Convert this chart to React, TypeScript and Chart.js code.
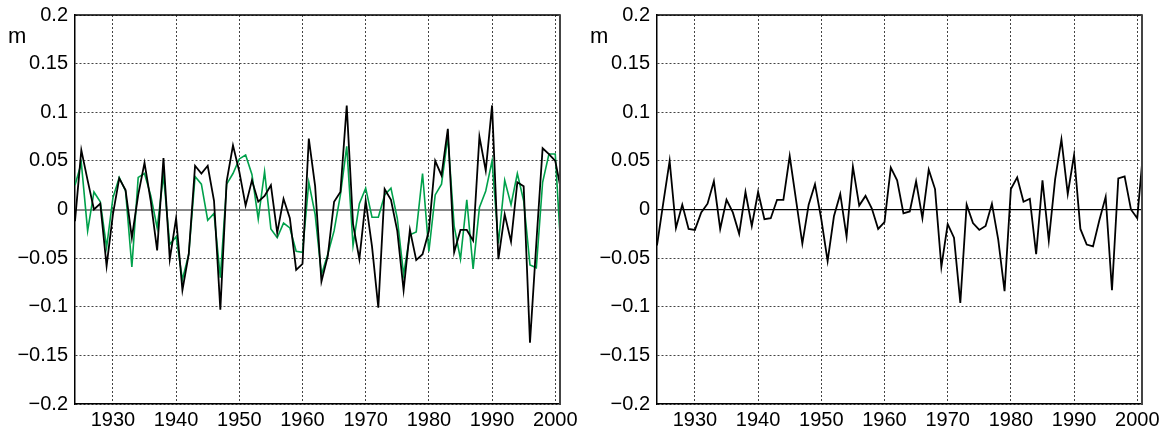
import React, { useEffect, useRef } from "react";
import { Chart, registerables } from "chart.js";

Chart.register(...registerables);

// ---------- data ----------
const years = [
  1924, 1925, 1926, 1927, 1928, 1929, 1930, 1931, 1932, 1933,
  1934, 1935, 1936, 1937, 1938, 1939, 1940, 1941, 1942, 1943,
  1944, 1945, 1946, 1947, 1948, 1949, 1950, 1951, 1952, 1953,
  1954, 1955, 1956, 1957, 1958, 1959, 1960, 1961, 1962, 1963,
  1964, 1965, 1966, 1967, 1968, 1969, 1970, 1971, 1972, 1973,
  1974, 1975, 1976, 1977, 1978, 1979, 1980, 1981, 1982, 1983,
  1984, 1985, 1986, 1987, 1988, 1989, 1990, 1991, 1992, 1993,
  1994, 1995, 1996, 1997, 1998, 1999, 2000, 2001,
];

const leftBlack = [
  -0.012, 0.061, 0.03, 0.0, 0.006, -0.058, -0.005, 0.032, 0.02, -0.029,
  0.015, 0.048, 0.008, -0.042, 0.053, -0.051, -0.009, -0.083, -0.046, 0.045,
  0.037, 0.045, 0.009, -0.103, 0.029, 0.066, 0.039, 0.004, 0.03, 0.008,
  0.014, 0.025, -0.024, 0.011, -0.009, -0.062, -0.056, 0.073, 0.024, -0.074,
  -0.048, 0.008, 0.018, 0.107, -0.015, -0.051, 0.009, -0.038, -0.101, 0.021,
  0.01, -0.022, -0.083, -0.021, -0.052, -0.046, -0.022, 0.05, 0.035, 0.083,
  -0.044, -0.021, -0.021, -0.032, 0.075, 0.04, 0.107, -0.051, -0.005, -0.033,
  0.028, 0.024, -0.137, -0.035, 0.063, 0.057, 0.05, 0.017,
];

const leftGreen = [
  0.025, 0.048, -0.022, 0.018, 0.008, -0.039, 0.012, 0.033, 0.019, -0.059,
  0.033, 0.037, 0.014, -0.019, 0.035, -0.036, -0.028, -0.072, -0.046, 0.034,
  0.026, -0.011, -0.004, -0.07, 0.026, 0.037, 0.052, 0.056, 0.036, -0.01,
  0.039, -0.02, -0.029, -0.014, -0.019, -0.043, -0.044, 0.028, -0.005, -0.067,
  -0.046, -0.022, 0.015, 0.065, -0.037, 0.006, 0.022, -0.008, -0.008, 0.015,
  0.022, -0.009, -0.067, -0.026, -0.023, 0.037, -0.043, 0.015, 0.026, 0.075,
  -0.017, -0.051, 0.01, -0.061, 0.002, 0.019, 0.05, -0.035, 0.03, 0.005,
  0.037, 0.009, -0.057, -0.06, 0.028, 0.057, 0.057, -0.054,
];

const rightBlack = [
  -0.037, 0.007, 0.05, -0.019, 0.005, -0.02, -0.021, -0.003, 0.006, 0.029,
  -0.02, 0.01, -0.003, -0.025, 0.018, -0.017, 0.018, -0.01, -0.009, 0.01,
  0.01, 0.055, 0.01, -0.035, 0.005, 0.026, -0.01, -0.053, -0.007, 0.016,
  -0.028, 0.044, 0.004, 0.014, 0.001, -0.02, -0.013, 0.043, 0.03, -0.004,
  -0.002, 0.029, -0.009, 0.041, 0.021, -0.059, -0.015, -0.029, -0.096, 0.005,
  -0.014, -0.021, -0.017, 0.006, -0.031, -0.084, 0.021, 0.033, 0.008, 0.011,
  -0.046, 0.03, -0.032, 0.031, 0.072, 0.016, 0.056, -0.02, -0.036, -0.038,
  -0.011, 0.013, -0.083, 0.032, 0.034, 0.0, -0.009, 0.065,
];

const xTickYears = [1930, 1940, 1950, 1960, 1970, 1980, 1990, 2000];
const xMin = 1924;
const xMax = 2000.75;
const yMin = -0.2;
const yMax = 0.2;
const yStep = 0.05;
const unitLabel = "m";

// ---------- styling ----------
const FONT = "'Liberation Sans', Arial, Helvetica, sans-serif";
const FONT_SIZE = 20;
const UNIT_FONT_SIZE = 22;
const GRID_COLOR = "#444";
const GREEN = "#00a14b";

const isZero = (v: any) => typeof v === "number" && Math.abs(v) < 1e-9;

function fmtY(v: number): string {
  if (Math.abs(v) < 1e-9) return "0";
  const s = String(Number(Math.abs(v).toFixed(2)));
  return (v < 0 ? "\u2212" : "") + s;
}

const framePlugin = {
  id: "frame",
  afterDatasetsDraw(chart: any) {
    const { ctx, chartArea } = chart;
    const { left, right, top, bottom } = chartArea;
    ctx.save();
    ctx.strokeStyle = "#000";
    ctx.lineWidth = 1.5;
    ctx.beginPath();
    ctx.moveTo(left, top);
    ctx.lineTo(right, top);
    ctx.stroke();
    ctx.strokeStyle = "#444";
    ctx.lineWidth = 2;
    ctx.beginPath();
    ctx.moveTo(right, top - 0.75);
    ctx.lineTo(right, bottom + 1);
    ctx.stroke();
    ctx.fillStyle = "#000";
    ctx.font = `${UNIT_FONT_SIZE}px ${FONT}`;
    ctx.textAlign = "left";
    ctx.textBaseline = "alphabetic";
    ctx.fillText(unitLabel, left - 67, 43);
    ctx.restore();
  },
};

type Series = { values: number[]; color: string; width: number };

function buildConfig(
  series: Series[],
  opts: { axisWidth: number; rightPad: number; zeroColor: string; zeroWidth: number }
): any {
  return {
    type: "line",
    data: {
      datasets: series.map((s) => ({
        data: years.map((x, i) => ({ x, y: s.values[i] })),
        borderColor: s.color,
        borderWidth: s.width,
        pointRadius: 0,
        pointHoverRadius: 0,
        tension: 0,
        fill: false,
        clip: 0,
      })),
    },
    options: {
      animation: false,
      responsive: false,
      events: [],
      layout: { padding: { left: 0, right: opts.rightPad, top: 15, bottom: 0 } },
      plugins: { legend: { display: false }, tooltip: { enabled: false } },
      scales: {
        x: {
          type: "linear",
          min: xMin,
          max: xMax,
          afterBuildTicks: (s: any) => {
            s.ticks = xTickYears.map((v) => ({ value: v }));
          },
          afterFit: (s: any) => {
            s.height = 29;
            s.paddingLeft = 0;
            s.paddingRight = 0;
          },
          ticks: {
            font: { family: FONT, size: FONT_SIZE },
            color: "#000",
            padding: 4,
            maxRotation: 0,
            autoSkip: false,
            callback: (v: any) => String(v),
          },
          grid: { color: GRID_COLOR, lineWidth: 1, drawTicks: false },
          border: { color: "#000", width: 1.5, dash: [2, 2] },
        },
        y: {
          type: "linear",
          min: yMin,
          max: yMax,
          afterFit: (s: any) => {
            s.width = opts.axisWidth;
            s.paddingTop = 0;
            s.paddingBottom = 0;
          },
          ticks: {
            stepSize: yStep,
            font: { family: FONT, size: FONT_SIZE },
            color: "#000",
            padding: 7,
            callback: (v: any) => fmtY(Number(v)),
          },
          grid: {
            drawTicks: false,
            color: (c: any) => (c.tick && isZero(c.tick.value) ? opts.zeroColor : GRID_COLOR),
            lineWidth: (c: any) => (c.tick && isZero(c.tick.value) ? opts.zeroWidth : 1),
          },
          border: {
            color: "#000",
            width: 1.5,
            dash: (c: any) => (c.tick && isZero(c.tick.value) ? [] : [2, 2]),
          },
        },
      },
    },
    plugins: [framePlugin],
  };
}

function ChartCanvas(props: { config: any; width: number; height: number; left: number }) {
  const ref = useRef<HTMLCanvasElement>(null);
  useEffect(() => {
    if (!ref.current) return;
    const chart = new Chart(ref.current, props.config);
    return () => chart.destroy();
  }, []);
  return (
    <canvas
      ref={ref}
      width={props.width}
      height={props.height}
      style={{ position: "absolute", left: props.left, top: 0, width: props.width, height: props.height }}
    />
  );
}

export default function App() {
  const leftConfig = buildConfig(
    [
      { values: leftBlack, color: "#000", width: 1.8 },
      { values: leftGreen, color: GREEN, width: 1.6 },
    ],
    { axisWidth: 75, rightPad: 20, zeroColor: "#888", zeroWidth: 2 }
  );
  const rightConfig = buildConfig(
    [{ values: rightBlack, color: "#000", width: 1.8 }],
    { axisWidth: 77, rightPad: 25, zeroColor: "#000", zeroWidth: 1.2 }
  );
  return (
    <div
      style={{
        position: "absolute",
        left: 0,
        top: 0,
        width: 1167,
        height: 433,
        background: "#fff",
        overflow: "hidden",
      }}
    >
      <ChartCanvas config={leftConfig} width={580} height={433} left={0} />
      <ChartCanvas config={rightConfig} width={587} height={433} left={580} />
    </div>
  );
}
